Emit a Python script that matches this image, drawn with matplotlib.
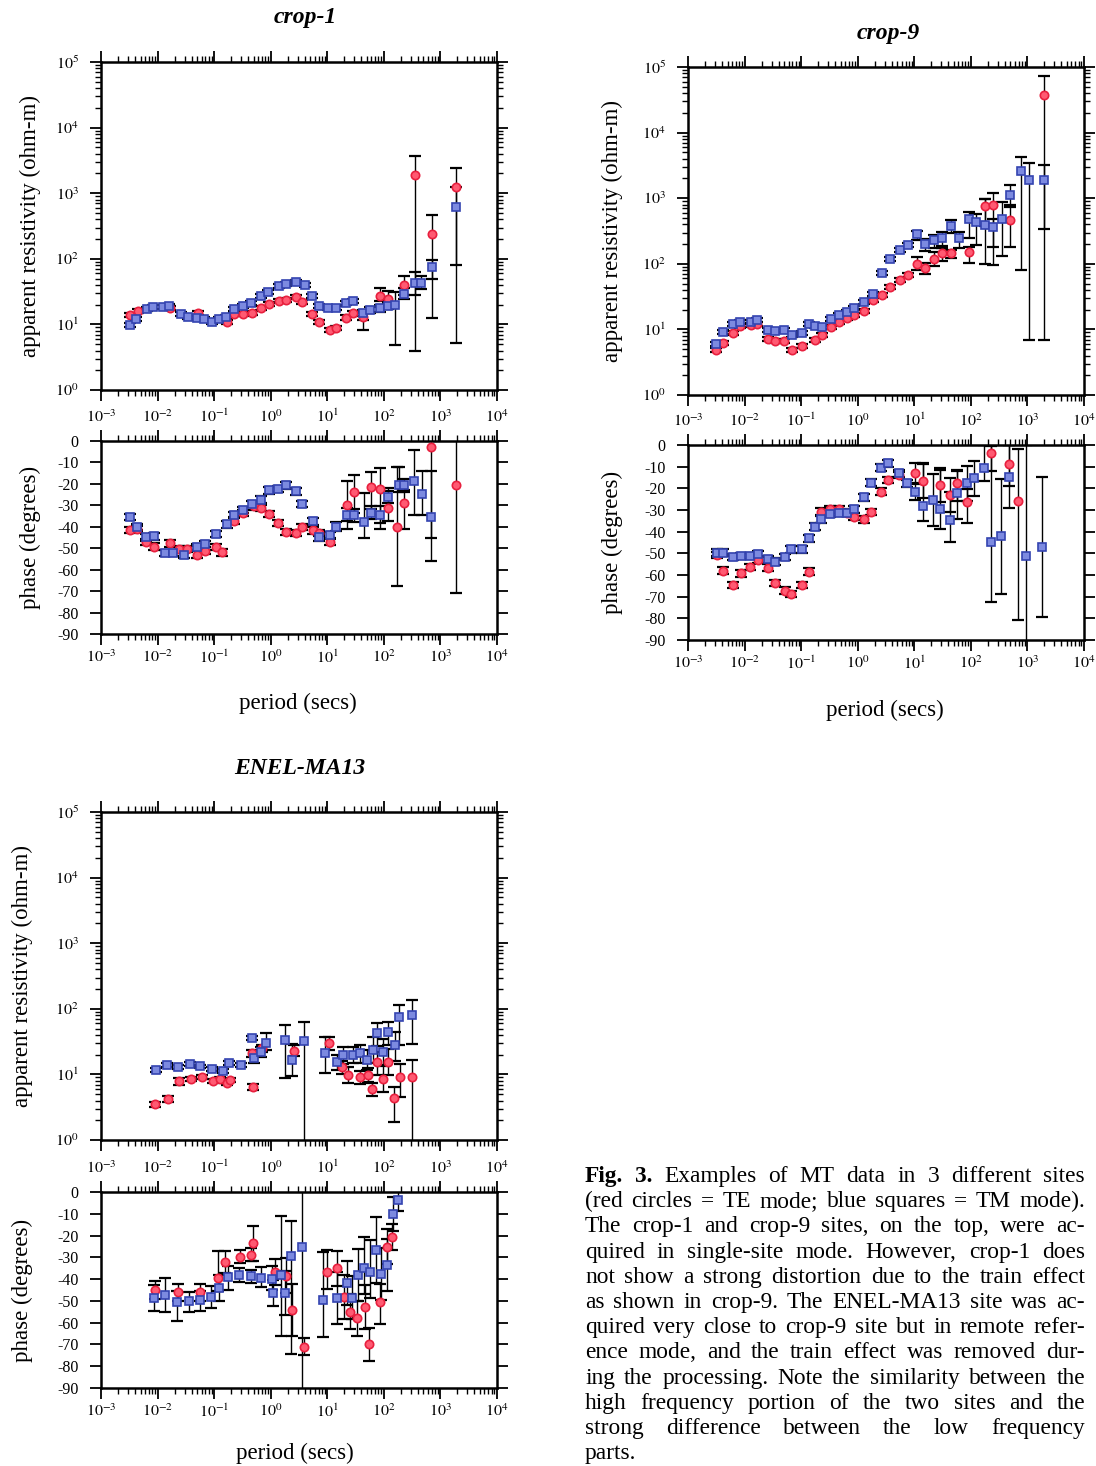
import numpy as np
import matplotlib
matplotlib.use('Agg')
import matplotlib.pyplot as plt
from matplotlib.ticker import LogLocator, NullFormatter, MultipleLocator, FuncFormatter

plt.rcParams['font.family'] = ['Liberation Serif', 'DejaVu Serif']
plt.rcParams['mathtext.fontset'] = 'stix'
plt.rcParams['axes.unicode_minus'] = False

# ---------------- data: crop-1 ----------------
c1_te_T = [0.0032, 0.0045, 0.0165, 0.051, 0.17, 0.22, 0.33, 0.46, 0.67, 0.93, 1.4, 1.9, 2.8, 3.6, 5.3, 7.1,
           11, 14.5, 21, 29, 43, 87, 117, 225, 350, 700, 1900]
c1_te_rho = [13.8, 16, 17.5, 14.7, 10.8, 14.2, 14.2, 14.7, 17.5, 20.5, 23, 23.5, 26, 22, 14.2, 11,
             8.2, 8.9, 12.7, 14.7, 13.1, 27.5, 24, 40, 1900, 240, 1250]
c1_te_rho_dn = [0.03, 0.03, 0.03, 0.03, 0.03, 0.03, 0.03, 0.03, 0.03, 0.03, 0.03, 0.03, 0.03, 0.03, 0.03, 0.03,
                0.03, 0.03, 0.04, 0.04, 0.05, 0.08, 0.11, 0.16, 2.68, 1.29, 2.38]
c1_te_rho_up = [0.03, 0.03, 0.03, 0.03, 0.03, 0.03, 0.03, 0.03, 0.03, 0.03, 0.03, 0.03, 0.03, 0.03, 0.03, 0.03,
                0.03, 0.03, 0.04, 0.04, 0.05, 0.12, 0.13, 0.13, 0.29, 0.28, 0.29]

c1_tm_T = [0.0032, 0.0042, 0.0064, 0.0082, 0.0126, 0.016, 0.026, 0.035, 0.049, 0.066, 0.093, 0.12, 0.16,
           0.22, 0.33, 0.45, 0.67, 0.9, 1.4, 1.9, 2.8, 4.0, 5.3, 7.1, 10.5, 14.5, 21, 29, 43, 58, 87, 117,
           160, 225, 350, 450, 700, 1900]
c1_tm_rho = [9.8, 12, 17, 18.3, 18.3, 19, 14.2, 13.1, 12.7, 12, 10.8, 12.3, 13.1, 17, 19, 21, 27, 31.5,
             38, 41, 45, 40, 27.5, 19, 17.5, 17.9, 21.5, 23, 14.7, 16.5, 17.5, 19, 19.5, 29.5, 43, 43, 75, 620]
c1_tm_rho_dn = [0.03, 0.03, 0.03, 0.03, 0.03, 0.03, 0.03, 0.03, 0.03, 0.03, 0.03, 0.03, 0.03, 0.03,
                0.03, 0.03, 0.03, 0.03, 0.03, 0.03, 0.03, 0.03, 0.03, 0.03, 0.03, 0.03, 0.03, 0.03,
                0.25, 0.05, 0.05, 0.05, 0.61, 0.08, 0.19, 0.1, 0.18, 0.89]
c1_tm_rho_up = [0.03, 0.03, 0.03, 0.03, 0.03, 0.03, 0.03, 0.03, 0.03, 0.03, 0.03, 0.03, 0.03, 0.03,
                0.03, 0.03, 0.03, 0.03, 0.03, 0.03, 0.03, 0.03, 0.03, 0.03, 0.03, 0.03, 0.03, 0.03,
                0.05, 0.05, 0.05, 0.05, 0.2, 0.08, 0.17, 0.1, 0.1, 0.3]

c1_tm_pT = [0.0032, 0.0043, 0.0063, 0.0085, 0.0135, 0.019, 0.029, 0.05, 0.069, 0.11, 0.17, 0.225, 0.33,
            0.46, 0.68, 0.94, 1.35, 1.85, 2.8, 3.6, 5.6, 7.2, 11, 14, 22, 30, 44, 59, 87, 118, 185, 230,
            340, 470, 690]
c1_tm_ph = [-35.5, -40.2, -44.9, -44.5, -52.3, -52.3, -53, -49.5, -48, -43.3, -38.9, -34.4, -32.1, -29.3,
            -27.3, -23, -22.3, -20.7, -23.5, -29.3, -37.5, -44.9, -43.8, -39.9, -34.4, -34.7, -37.9, -33.5,
            -34.3, -25.9, -20.7, -20.7, -18.8, -24.6, -35.5]
c1_tm_ph_dn = [1.5, 1.5, 1.5, 1.5, 1.5, 1.5, 1.5, 1.5, 1.5, 1.5, 1.5, 1.5, 1.5, 1.5, 1.5, 1.5, 1.5, 1.5,
               1.5, 1.5, 1.5, 1.5, 1.5, 2, 3, 3, 7.4, 3, 4, 3, 3, 3, 15.9, 10.1, 9.8]
c1_tm_ph_up = [1.5, 1.5, 1.5, 1.5, 1.5, 1.5, 1.5, 1.5, 1.5, 1.5, 1.5, 1.5, 1.5, 1.5, 1.5, 1.5, 1.5, 1.5,
               1.5, 1.5, 1.5, 1.5, 1.5, 2, 3, 3, 13.6, 3, 4, 4, 8.6, 3, 14.8, 10.4, 21.3]

c1_te_pT = [0.0032, 0.0043, 0.0063, 0.0085, 0.0166, 0.0235, 0.033, 0.05, 0.069, 0.11, 0.138, 0.225, 0.33,
            0.5, 0.68, 0.94, 1.35, 1.85, 2.8, 3.6, 5.6, 7.2, 11, 22, 30, 59, 87, 118, 173, 230, 690, 1900]
c1_te_ph = [-41.4, -41, -47.2, -49.2, -47.7, -50.3, -50.3, -53, -51.1, -49.5, -51.9, -37.1, -33.6, -30.5,
            -31.2, -34, -38.3, -42.5, -43, -40.2, -41.7, -42.8, -47.2, -30, -23.8, -21.5, -22.6, -31.3,
            -39.9, -28.8, -2.8, -20.7]
c1_te_ph_dn = [1.5, 1.5, 1.5, 1.5, 1.5, 1.5, 1.5, 1.5, 1.5, 1.5, 1.5, 1.5, 1.5, 1.5, 1.5, 1.5, 1.5, 1.5,
               1.5, 1.5, 1.5, 1.5, 1.5, 11.2, 10, 10, 18.4, 6, 27.9, 12.2, 53, 50]
c1_te_ph_up = [1.5, 1.5, 1.5, 1.5, 1.5, 1.5, 1.5, 1.5, 1.5, 1.5, 1.5, 1.5, 1.5, 1.5, 1.5, 1.5, 1.5, 1.5,
               1.5, 1.5, 1.5, 1.5, 1.5, 11.2, 8, 7, 9.9, 8, 27.8, 6, 2.8, 21]

# ---------------- data: crop-9 ----------------
c9_tm_T = [0.0031, 0.0042, 0.0063, 0.0083, 0.0129, 0.0168, 0.026, 0.035, 0.05, 0.068, 0.102, 0.14, 0.178,
           0.23, 0.34, 0.46, 0.65, 0.87, 1.3, 1.86, 2.7, 3.7, 5.6, 7.6, 11.3, 15.2, 22, 31, 45, 62, 91, 123,
           180, 245, 360, 500, 760, 1050, 2000]
c9_tm_rho = [6.0, 9.2, 12.1, 13.1, 13.1, 13.9, 9.8, 9.6, 9.8, 8.2, 8.7, 12.1, 11.3, 11, 14.2, 16.5, 18.5,
             21, 26, 35, 72, 117, 165, 192, 280, 200, 230, 250, 375, 245, 490, 430, 390, 365, 490, 1100,
             2600, 1870, 1870]
c9_tm_rho_dn = [0.03, 0.03, 0.03, 0.03, 0.03, 0.03, 0.03, 0.03, 0.03, 0.03, 0.03, 0.03, 0.03, 0.03, 0.03,
                0.03, 0.03, 0.03, 0.03, 0.03, 0.03, 0.03, 0.03, 0.03, 0.08, 0.1, 0.12, 0.12, 0.1, 0.15, 0.3,
                0.35, 0.6, 0.3, 0.57, 0.14, 1.51, 2.43, 0.74]
c9_tm_rho_up = [0.03, 0.03, 0.03, 0.03, 0.03, 0.03, 0.03, 0.03, 0.03, 0.03, 0.03, 0.03, 0.03, 0.03, 0.03,
                0.03, 0.03, 0.03, 0.03, 0.03, 0.03, 0.03, 0.03, 0.03, 0.05, 0.08, 0.08, 0.08, 0.1, 0.1, 0.1,
                0.12, 0.4, 0.12, 0.25, 0.16, 0.22, 0.27, 0.23]

c9_te_T = [0.0031, 0.0042, 0.0063, 0.0083, 0.0129, 0.0168, 0.026, 0.035, 0.05, 0.068, 0.102, 0.178, 0.23,
           0.34, 0.46, 0.65, 0.87, 1.3, 1.86, 2.7, 3.7, 5.6, 7.6, 11.3, 15.2, 22, 31, 45, 91, 180, 245, 500,
           2000]
c9_te_rho = [4.9, 6.3, 8.7, 11.3, 11.7, 12.1, 7.1, 6.7, 6.7, 4.9, 5.6, 7.0, 8.2, 10.7, 13.1, 14.7, 16.5,
             19, 28, 34, 44, 56, 67, 100, 85, 120, 144, 147, 152, 760, 800, 460, 37000]
c9_te_rho_dn = [0.03, 0.03, 0.03, 0.03, 0.03, 0.03, 0.03, 0.03, 0.03, 0.03, 0.03, 0.03, 0.03, 0.03, 0.03,
                0.03, 0.03, 0.03, 0.03, 0.03, 0.03, 0.03, 0.03, 0.1, 0.08, 0.12, 0.12, 0.08, 0.17, 0.3, 0.92,
                0.4, 3.73]
c9_te_rho_up = [0.03, 0.03, 0.03, 0.03, 0.03, 0.03, 0.03, 0.03, 0.03, 0.03, 0.03, 0.03, 0.03, 0.03, 0.03,
                0.03, 0.03, 0.03, 0.03, 0.03, 0.03, 0.03, 0.03, 0.1, 0.08, 0.1, 0.08, 0.05, 0.08, 0.1, 0.17,
                0.2, 0.3]

c9_tm_pT = [0.0032, 0.0042, 0.0063, 0.0085, 0.0126, 0.017, 0.026, 0.035, 0.051, 0.067, 0.105, 0.135, 0.173,
            0.225, 0.33, 0.47, 0.65, 0.87, 1.3, 1.75, 2.6, 3.5, 5.3, 7.4, 10.5, 14.4, 21.5, 29, 43, 58, 85,
            115, 170, 225, 345, 470, 930, 1800]
c9_tm_ph = [-49.7, -49.7, -51.8, -51.2, -51.2, -50.3, -52.8, -53.8, -51.8, -48.2, -48.2, -43.1, -37.7,
            -34.3, -31.8, -31.5, -31.5, -29.7, -24.2, -17.4, -10.5, -8.5, -13.1, -17.7, -21.5, -28.2, -25.4,
            -29.7, -34.6, -22, -17.7, -15.4, -10.5, -44.6, -41.8, -14.9, -51.1, -46.9]
c9_tm_ph_dn = [1.5, 1.5, 1.5, 1.5, 1.5, 1.5, 1.5, 1.5, 1.5, 1.5, 1.5, 1.5, 1.5, 1.5, 1.5, 1.5, 1.5, 1.5,
               1.5, 1.5, 1.5, 1.5, 1.5, 1.5, 4, 7, 12, 9, 10, 12, 8, 8, 6, 27.7, 27, 14.3, 45, 32.6]
c9_tm_ph_up = [1.5, 1.5, 1.5, 1.5, 1.5, 1.5, 1.5, 1.5, 1.5, 1.5, 1.5, 1.5, 1.5, 1.5, 1.5, 1.5, 1.5, 1.5,
               1.5, 1.5, 1.5, 1.5, 1.5, 1.5, 4, 20, 12, 18, 13, 10, 8, 8, 10.5, 44, 26, 14.9, 51.1, 32]

c9_te_pT = [0.0032, 0.0042, 0.0063, 0.0085, 0.0126, 0.017, 0.026, 0.035, 0.051, 0.067, 0.105, 0.135, 0.225,
            0.33, 0.47, 0.65, 0.87, 1.3, 1.75, 2.6, 3.5, 5.3, 10.5, 14.4, 29, 43, 58, 85, 225, 470, 690]
c9_te_ph = [-50.8, -58, -64.6, -59.2, -56.2, -53.1, -56.6, -63.8, -67.2, -68.8, -64.6, -58.5, -30.8, -29.7,
            -29.7, -31.2, -33.1, -34.3, -30.9, -21.5, -16.2, -13.8, -13.1, -16.6, -18.5, -23.1, -17.7,
            -26.2, -3.8, -8.9, -25.7]
c9_te_ph_dn = [1.5, 1.5, 1.5, 1.5, 1.5, 1.5, 1.5, 1.5, 1.5, 1.5, 1.5, 1.5, 1.5, 1.5, 1.5, 1.5, 1.5, 1.5,
               1.5, 1.5, 1.5, 1.5, 5, 8, 8, 8, 8, 10, 8, 10, 55]
c9_te_ph_up = [1.5, 1.5, 1.5, 1.5, 1.5, 1.5, 1.5, 1.5, 1.5, 1.5, 1.5, 1.5, 1.5, 1.5, 1.5, 1.5, 1.5, 1.5,
               1.5, 1.5, 1.5, 1.5, 5, 8, 8, 8, 6, 6, 3.8, 8.9, 24]

# ---------------- data: ENEL-MA13 ----------------
en_tm_T = [0.0093, 0.0144, 0.023, 0.037, 0.057, 0.091, 0.142, 0.185, 0.30, 0.47, 0.50, 0.68, 0.83, 1.8,
           2.4, 3.8, 9.1, 14.7, 19, 29, 38, 50, 63, 76, 95, 120, 158, 182, 310]
en_tm_rho = [11.7, 13.9, 12.9, 14.5, 13.2, 12.0, 11.2, 14.8, 13.8, 36, 17.8, 22, 30, 33, 16.6, 32, 21.3,
             15.5, 20, 20, 21, 16.6, 23.5, 43, 22, 45, 28, 76, 81]
en_tm_rho_dn = [0.03, 0.03, 0.03, 0.03, 0.03, 0.03, 0.03, 0.03, 0.03, 0.03, 0.08, 0.08, 0.1, 0.58, 0.25,
                2.0, 0.31, 0.12, 0.15, 0.12, 0.15, 0.15, 0.2, 0.2, 0.2, 0.2, 0.25, 0.43, 0.44]
en_tm_rho_up = [0.03, 0.03, 0.03, 0.03, 0.03, 0.03, 0.03, 0.03, 0.03, 0.03, 0.05, 0.08, 0.15, 0.24, 0.25,
                0.3, 0.24, 0.1, 0.12, 0.12, 0.12, 0.15, 0.2, 0.15, 0.2, 0.15, 0.2, 0.18, 0.22]

en_te_T = [0.0089, 0.0155, 0.024, 0.039, 0.061, 0.094, 0.126, 0.166, 0.19, 0.47, 0.49, 0.69, 2.6, 10.7,
           18, 23.5, 38, 52, 61, 76, 95, 120, 150, 195, 310]
en_te_rho = [3.5, 4.2, 7.8, 8.5, 9.0, 7.9, 8.5, 7.3, 8.2, 21, 6.4, 25, 23, 30, 12.9, 9.8, 9.1, 9.8, 5.9,
             15.5, 8.5, 15.5, 4.3, 9.0, 9.0]
en_te_rho_dn = [0.04, 0.05, 0.05, 0.03, 0.03, 0.03, 0.03, 0.03, 0.03, 0.05, 0.04, 0.05, 0.08, 0.1, 0.1,
                0.12, 0.1, 0.1, 0.1, 0.2, 0.2, 0.2, 0.36, 0.3, 1.5]
en_te_rho_up = [0.04, 0.05, 0.05, 0.03, 0.03, 0.03, 0.03, 0.03, 0.03, 0.05, 0.04, 0.05, 0.08, 0.1, 0.1,
                0.12, 0.1, 0.1, 0.1, 0.15, 0.2, 0.2, 0.17, 0.2, 0.27]

en_tm_pT = [0.0087, 0.0135, 0.022, 0.036, 0.056, 0.088, 0.122, 0.176, 0.275, 0.45, 0.66, 1.05, 1.12, 1.5,
            1.8, 2.3, 3.6, 8.5, 14.7, 22, 27, 35, 45, 57, 72, 88, 112, 148, 175]
en_tm_ph = [-48.5, -47.3, -50.4, -49.9, -49.6, -48.3, -43.9, -38.9, -38.1, -38.6, -39.6, -40.1, -46.5,
            -38.1, -46.5, -29.4, -25.1, -49.6, -48.8, -41.9, -48.5, -38.1, -34.8, -36.9, -26.6, -37.8,
            -33.5, -10.1, -3.7]
en_tm_ph_dn = [6, 8, 9, 5, 5, 5, 6, 6, 3, 3, 4, 5, 6, 28, 10, 45, 70, 17, 12, 10, 10, 12, 12, 12, 15, 12,
               12, 8, 5]
en_tm_ph_up = [6, 8, 5, 4, 4, 5, 6, 5, 3, 3, 5, 6, 6, 27, 10, 16, 30, 22, 12, 10, 10, 12, 14, 15, 15, 12,
               12, 8, 4]

en_te_pT = [0.0089, 0.023, 0.056, 0.115, 0.156, 0.29, 0.45, 0.48, 1.2, 1.9, 2.4, 3.8, 9.8, 14.7, 20, 25,
            33, 47, 55, 85, 112, 141]
en_te_ph = [-45, -46.1, -46.1, -39.3, -32, -29.7, -28.9, -23.6, -36.9, -38.4, -54.2, -71, -36.6, -35,
            -48.1, -55, -58, -52.7, -69.9, -50.4, -25.1, -20.5]
en_te_ph_dn = [4, 4, 4, 6, 5, 3, 3, 8, 6, 8, 12, 4, 8, 8, 10, 8, 8, 10, 7.5, 10, 8, 6]
en_te_ph_up = [4, 4, 4, 12, 5, 3, 3, 8, 6, 8, 12, 4, 10, 8, 10, 8, 8, 10, 7.5, 8, 8, 6]

site_titles = ['crop-1', 'crop-9', 'ENEL-MA13']
caption_lines = [
    "Fig. 3. Examples of MT data in 3 different sites",
    "(red circles = TE mode; blue squares = TM mode).",
    "The crop-1 and crop-9 sites, on the top, were ac-",
    "quired in single-site mode. However, crop-1 does",
    "not show a strong distortion due to the train effect",
    "as shown in crop-9. The ENEL-MA13 site was ac-",
    "quired very close to crop-9 site but in remote refer-",
    "ence mode, and the train effect was removed dur-",
    "ing the processing. Note the similarity between the",
    "high frequency portion of the two sites and the",
    "strong difference between the low frequency",
    "parts.",
]

# ---------------- styling ----------------
W, H = 1096, 1466
RED_FACE, RED_EDGE = '#ff5a72', '#e8203e'
BLUE_FACE, BLUE_EDGE = '#7c8ae0', '#3444b0'
TICK_FS = 11.5
LABEL_FS = 16.5

fig = plt.figure(figsize=(W / 100, H / 100), dpi=100)


def box(l, t, r, b):
    return [l / W, 1 - b / H, (r - l) / W, (b - t) / H]


def pow_fmt(v, p):
    return r'$10^{%d}$' % int(round(np.log10(v)))


def common(ax):
    ax.set_xscale('log')
    ax.set_xlim(1e-3, 1e4)
    ax.xaxis.set_major_locator(LogLocator(base=10, numticks=20))
    ax.xaxis.set_minor_locator(LogLocator(base=10, subs=np.arange(2, 10), numticks=200))
    ax.xaxis.set_minor_formatter(NullFormatter())
    ax.tick_params(which='both', direction='out', top=True, right=True, labelsize=TICK_FS, pad=2)
    ax.tick_params(which='major', length=8, width=1.3)
    ax.tick_params(which='minor', length=4, width=1.0)
    for s in ax.spines.values():
        s.set_linewidth(1.8)


def style_rho(ax):
    common(ax)
    ax.set_yscale('log')
    ax.set_ylim(1, 1e5)
    ax.yaxis.set_major_locator(LogLocator(base=10, numticks=20))
    ax.yaxis.set_minor_locator(LogLocator(base=10, subs=np.arange(2, 10), numticks=200))
    ax.yaxis.set_minor_formatter(NullFormatter())
    ax.yaxis.set_major_formatter(FuncFormatter(pow_fmt))
    ax.tick_params(axis='x', labelbottom=False)
    ax.tick_params(axis='y', pad=8)


def style_phase(ax):
    common(ax)
    ax.set_ylim(-90, 0)
    ax.yaxis.set_major_locator(MultipleLocator(10))
    ax.yaxis.set_major_formatter(FuncFormatter(lambda v, p: '%d' % int(round(v))))
    ax.xaxis.set_major_formatter(FuncFormatter(pow_fmt))
    ax.tick_params(axis='x', labeltop=True, labelbottom=True, pad=3)
    ax.tick_params(axis='y', pad=8)


def draw(ax, T, v, dn, up, face, edge, marker, ms, log):
    T = np.asarray(T, float)
    v = np.asarray(v, float)
    dn = np.asarray(dn, float)
    up = np.asarray(up, float)
    if log:
        lo = v - v / 10 ** dn
        hi = v * 10 ** up - v
    else:
        lo, hi = dn, up
    ax.errorbar(T, v, yerr=[lo, hi], fmt='none', ecolor='black', elinewidth=1.0,
                capsize=4.5, capthick=1.6, zorder=2)
    ax.plot(T, v, linestyle='none', marker=marker, ms=ms, mfc=face, mec=edge, mew=1.2, zorder=3)


def site(rho_box, ph_box, te_rho, tm_rho, te_ph, tm_ph):
    ax1 = fig.add_axes(box(*rho_box))
    style_rho(ax1)
    draw(ax1, *te_rho, RED_FACE, RED_EDGE, 'o', 6, True)
    draw(ax1, *tm_rho, BLUE_FACE, BLUE_EDGE, 's', 5.8, True)
    ax2 = fig.add_axes(box(*ph_box))
    style_phase(ax2)
    draw(ax2, *te_ph, RED_FACE, RED_EDGE, 'o', 6, False)
    draw(ax2, *tm_ph, BLUE_FACE, BLUE_EDGE, 's', 5.8, False)
    return ax1, ax2


site((101, 62, 497, 390), (101, 441, 497, 634),
     (c1_te_T, c1_te_rho, c1_te_rho_dn, c1_te_rho_up),
     (c1_tm_T, c1_tm_rho, c1_tm_rho_dn, c1_tm_rho_up),
     (c1_te_pT, c1_te_ph, c1_te_ph_dn, c1_te_ph_up),
     (c1_tm_pT, c1_tm_ph, c1_tm_ph_dn, c1_tm_ph_up))
site((688, 67, 1084, 395), (688, 445, 1084, 640),
     (c9_te_T, c9_te_rho, c9_te_rho_dn, c9_te_rho_up),
     (c9_tm_T, c9_tm_rho, c9_tm_rho_dn, c9_tm_rho_up),
     (c9_te_pT, c9_te_ph, c9_te_ph_dn, c9_te_ph_up),
     (c9_tm_pT, c9_tm_ph, c9_tm_ph_dn, c9_tm_ph_up))
site((101, 812, 497, 1140), (101, 1192, 497, 1388),
     (en_te_T, en_te_rho, en_te_rho_dn, en_te_rho_up),
     (en_tm_T, en_tm_rho, en_tm_rho_dn, en_tm_rho_up),
     (en_te_pT, en_te_ph, en_te_ph_dn, en_te_ph_up),
     (en_tm_pT, en_tm_ph, en_tm_ph_dn, en_tm_ph_up))


def ftext(x, y, s, **kw):
    return fig.text(x / W, 1 - y / H, s, **kw)


# titles
for (x, y), title in zip([(305, 18), (888, 33), (300, 768)], site_titles):
    ftext(x, y, title, ha='center', va='center', fontsize=17, fontweight='bold', fontstyle='italic')

# axis labels
for x, y in [(30, 226), (612, 231), (22, 976)]:
    ftext(x, y, 'apparent resistivity (ohm-m)', rotation=90, ha='center', va='center', fontsize=LABEL_FS)
for x, y in [(30, 537), (612, 542), (22, 1290)]:
    ftext(x, y, 'phase (degrees)', rotation=90, ha='center', va='center', fontsize=LABEL_FS)
for x, y in [(298, 703), (885, 710), (295, 1453)]:
    ftext(x, y, 'period (secs)', ha='center', va='center', fontsize=LABEL_FS)

# caption, justified line by line
renderer = fig.canvas.get_renderer()
CAP_FS = 16.8
x_left, x_right = 585, 1085
for i, line in enumerate(caption_lines):
    yb = 1182 + i * 25.2
    words = line.split(' ')
    texts = []
    for j, w in enumerate(words):
        bold = (i == 0 and j < 2)
        texts.append(ftext(0, yb, w, ha='left', va='baseline', fontsize=CAP_FS,
                           fontweight='bold' if bold else 'normal'))
    widths = [t.get_window_extent(renderer).width for t in texts]
    if i < len(caption_lines) - 1 and len(words) > 1:
        gap = (x_right - x_left - sum(widths)) / (len(words) - 1)
    else:
        gap = CAP_FS * 100 / 72 * 0.25
    x = x_left
    for t, wd in zip(texts, widths):
        t.set_position((x / W, 1 - yb / H))
        x += wd + gap

fig.savefig('out.png', dpi=100)
